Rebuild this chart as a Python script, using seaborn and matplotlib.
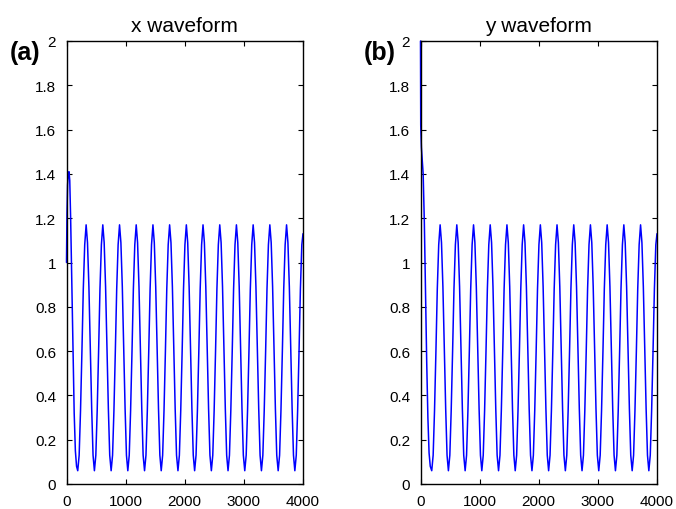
import numpy as np
import pandas as pd
import matplotlib
matplotlib.use("Agg")
import matplotlib.pyplot as plt
import seaborn as sns

# Start-up transient of each waveform (time, value)
x_start_t = [0, 8, 18, 30, 42, 55, 70, 90, 110, 130, 150, 170]
x_start_v = [1.00, 1.22, 1.35, 1.40, 1.41, 1.37, 1.20, 0.90, 0.58, 0.32, 0.15, 0.08]
y_start_t = [0, 4, 15, 30, 45, 65, 85, 105, 125, 145, 165]
y_start_v = [2.00, 1.62, 1.52, 1.46, 1.40, 1.18, 0.86, 0.55, 0.30, 0.14, 0.08]

# One steady-state cycle (trough to trough), same for x and y
cycle_offset = [0, 24, 47, 71, 94, 118, 142, 165, 189, 212, 236, 259]
cycle_value = [0.06, 0.13, 0.33, 0.60, 0.88, 1.08, 1.17, 1.09, 0.89, 0.62, 0.34, 0.13]

# Trough times of the steady oscillation
trough_times = [190, 472, 755, 1037, 1320, 1602, 1885, 2167, 2450, 2732,
                3015, 3297, 3580, 3862]

t_end = 4000
x_end_v = 1.13
y_end_v = 1.13

x_ticks = [0, 1000, 2000, 3000, 4000]
y_ticks = [0, 0.2, 0.4, 0.6, 0.8, 1, 1.2, 1.4, 1.6, 1.8, 2]
y_tick_labels = ["0", "0.2", "0.4", "0.6", "0.8", "1", "1.2", "1.4", "1.6", "1.8", "2"]


def build_series(start_t, start_v, end_v):
    # stitch the transient, the repeated cycles and the last point together
    t = list(start_t)
    v = list(start_v)
    for s in trough_times:
        for off, val in zip(cycle_offset, cycle_value):
            if s + off < t_end:
                t.append(s + off)
                v.append(val)
    t.append(t_end)
    v.append(end_v)
    return pd.DataFrame({"t": t, "v": v})


x_df = build_series(x_start_t, x_start_v, x_end_v)
y_df = build_series(y_start_t, y_start_v, y_end_v)

sns.set_style("ticks")
plt.rcParams["font.family"] = ["Liberation Sans", "DejaVu Sans"]
plt.rcParams["text.color"] = "black"
plt.rcParams["axes.titlecolor"] = "black"

fig = plt.figure(figsize=(6.76, 5.10), dpi=100)
ax1 = fig.add_axes([66.5 / 676, 25 / 510, 236.5 / 676, 443 / 510])
ax2 = fig.add_axes([420.5 / 676, 25 / 510, 236.5 / 676, 443 / 510])

panels = [(ax1, x_df, "x waveform", "(a)"), (ax2, y_df, "y waveform", "(b)")]
for ax, df, title, tag in panels:
    sns.lineplot(data=df, x="t", y="v", ax=ax, color="#0000ff", linewidth=1.1,
                 estimator=None, sort=False)
    for ln in ax.lines:
        ln.set_clip_on(False)
    ax.set_xlim(0, 4000)
    ax.set_ylim(0, 2)
    ax.set_xticks(x_ticks)
    ax.set_yticks(y_ticks)
    ax.set_yticklabels(y_tick_labels)
    ax.set_xlabel("")
    ax.set_ylabel("")
    ax.tick_params(direction="in", length=3.5, width=0.8, top=True, right=True,
                   labelsize=11, colors="black")
    ax.tick_params(axis="y", pad=7.5)
    ax.tick_params(axis="x", pad=7)
    for sp in ax.spines.values():
        sp.set_visible(True)
        sp.set_linewidth(1.0)
        sp.set_color("black")
    ax.set_title(title, fontsize=15, pad=7, color="black")
    # panel tag at the upper left
    ax.text(-0.239, 0.975, tag, transform=ax.transAxes, fontsize=18,
            fontweight="bold", ha="left", va="center", color="black")

fig.savefig("out.png", dpi=100)
